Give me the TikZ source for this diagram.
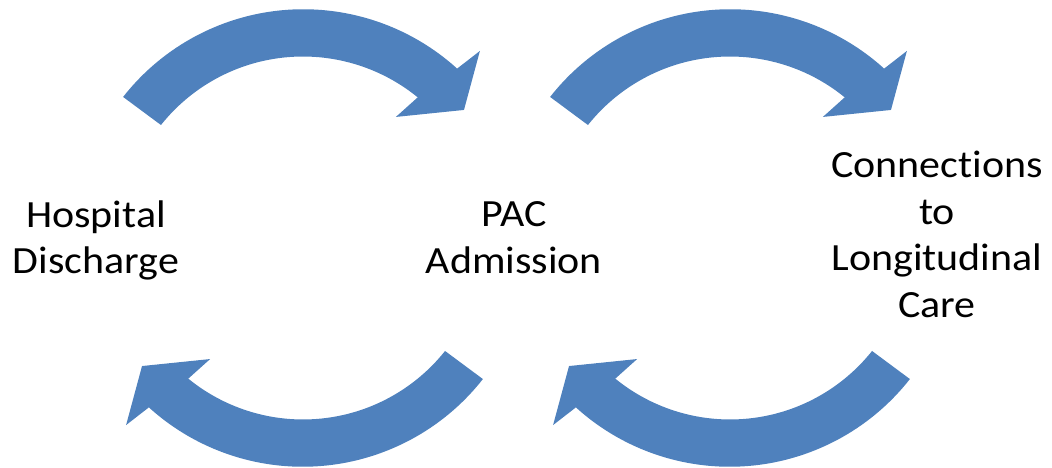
\documentclass[tikz,border=0pt]{standalone}
\usepackage{fontspec}
\setmainfont{Carlito}[Ligatures=NoCommon, RawFeature={-clig}, FakeStretch=1.09]
\definecolor{arrowblue}{HTML}{4F81BD}
\begin{document}
\begin{tikzpicture}[
  x=1pt, y=1pt,
  bendarrow/.style={fill=arrowblue},
  label/.style={font=\fontsize{38.5}{46.7}\selectfont, align=center, inner sep=0pt},
]
  \useasboundingbox (0,0) rectangle (1052,468);
  % Curved arrows: one shape, shifted and turned
  \foreach \cx/\rot in {303/0, 303/180, 730/0, 730/180} {
    \begin{scope}[shift={(\cx,230)}, rotate=\rot]
      \fill[bendarrow] (141.9:228.6) arc[start angle=141.9, end angle=47.8, radius=229]
        -- (46.6:257.5) -- (38.5:205.7) -- (52.5:152.6) -- (50.8:181.5)
        arc[start angle=50.8, end angle=141.5, radius=181.5] -- cycle;
    \end{scope}
  }
  % Labels
  \node[label] (hosp) at (96, 227.5) {Hospital\\Discharge};
  \node[label] (pac) at (514, 230) {PAC\\Admission};
  \node[label] (care) at (937, 233.5) {Connections\\to\\Longitudinal\\Care};
\end{tikzpicture}
\end{document}
